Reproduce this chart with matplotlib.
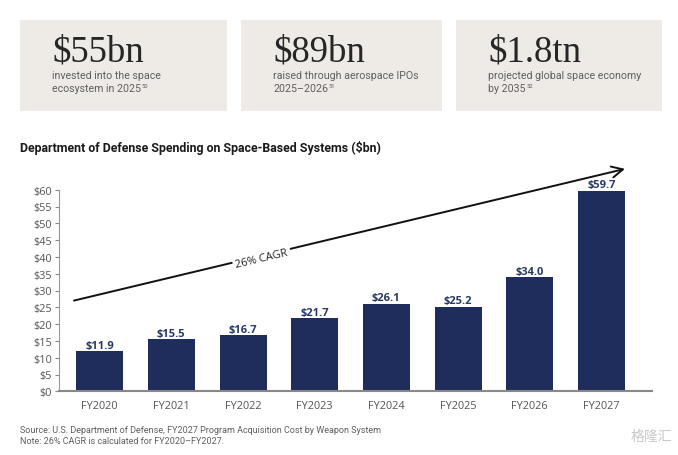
import matplotlib
matplotlib.use("Agg")
import matplotlib.pyplot as plt
from matplotlib.patches import Rectangle
import numpy as np

categories = ["FY2020", "FY2021", "FY2022", "FY2023", "FY2024", "FY2025", "FY2026", "FY2027"]
values = [11.9, 15.5, 16.7, 21.7, 26.1, 25.2, 34.0, 59.7]
yticks = [0, 5, 10, 15, 20, 25, 30, 35, 40, 45, 50, 55, 60]
card_big = ["$55bn", "$89bn", "$1.8tn"]
card_line1 = ["invested into the space", "raised through aerospace IPOs", "projected global space economy"]
card_line2 = ["ecosystem in 2025", "2025\u20132026", "by 2035"]
card_sup = ["50", "51", "52"]

W, H = 678, 456
fig = plt.figure(figsize=(W / 100, H / 100), dpi=100)
fig.patch.set_facecolor("white")

def fx(px):
    return px / W

def fy(py):
    return 1 - py / H

navy = "#1f2d5d"
gray_txt = "#5f5f5f"
card_col = "#eeeae6"
narrow = ["Roboto", "DejaVu Sans"]
serif = ["Liberation Serif", "DejaVu Serif"]
opens = ["Open Sans", "DejaVu Sans"]

# cards
cards_x = [(20, 227), (241, 442), (456, 662)]
for i, (x0, x1) in enumerate(cards_x):
    fig.patches.append(Rectangle((fx(x0), fy(112)), fx(x1 - x0), (112 - 21) / H,
                                 transform=fig.transFigure, facecolor=card_col,
                                 edgecolor="none", zorder=0))
    tx = x0 + 32
    fig.text(fx(tx), fy(61), card_big[i], family=serif, fontsize=26.5,
             color="#262626", ha="left", va="baseline")
    fig.text(fx(tx), fy(79.5), card_line1[i], family=narrow, fontsize=7.7,
             color=gray_txt, ha="left", va="baseline")
    t = fig.text(fx(tx), fy(92.5), card_line2[i], family=narrow, fontsize=7.7,
                 color=gray_txt, ha="left", va="baseline")
    fig.canvas.draw()
    bb = t.get_window_extent()
    fig.text(bb.x1 / W + 0.001, fy(88.5), card_sup[i], family=narrow, fontsize=4.2,
             color=gray_txt, ha="left", va="baseline")

# title
fig.text(fx(20), fy(152), "Department of Defense Spending on Space-Based Systems ($bn)",
         family=narrow, fontsize=8.9, fontweight="bold", color="#1a1a1a",
         ha="left", va="baseline")

# axes
y0px, y60px = 392.3, 190.7
ax = fig.add_axes([fx(59), fy(y0px), fx(652 - 59), (y0px - y60px) / H])
x = np.arange(len(categories))
ax.bar(x, values, width=0.656, color=navy, zorder=2)
for xi, v in zip(x, values):
    ax.text(xi, v + 1.0, f"${v:.1f}", ha="center", va="baseline", fontsize=8,
            fontweight="bold", color="#283a66", family=opens)
ax.set_xlim(-0.568, 7.707)
ax.set_ylim(0, 60)
ax.set_yticks(yticks)
ax.set_yticklabels([f"${t}" for t in yticks])
ax.set_xticks(x)
ax.set_xticklabels(categories)
for lab in ax.get_yticklabels() + ax.get_xticklabels():
    lab.set_family(opens)
    lab.set_color("#555555")
    lab.set_fontsize(7.8)
ax.tick_params(axis="y", length=3, width=0.8, color="#888888", pad=2)
ax.tick_params(axis="x", length=0, pad=6)
for s in ["top", "right"]:
    ax.spines[s].set_visible(False)
ax.spines["left"].set_color("#999999")
ax.spines["left"].set_linewidth(0.8)
ax.spines["bottom"].set_color("#888888")
ax.spines["bottom"].set_linewidth(1.5)
ax.set_facecolor("none")

# CAGR arrow
x_start, y_start = -0.359, 27.0
x_end, y_end = 7.33, 66.2
ax.annotate("", xy=(x_end, y_end), xytext=(x_start, y_start), xycoords="data",
            arrowprops=dict(arrowstyle="->,head_length=0.8,head_width=0.4",
                            color="#111111", lw=1.4, shrinkA=0, shrinkB=0),
            annotation_clip=False, zorder=3)
ang = np.degrees(np.arctan2(131.6, 551))
ax.text(2.26, 39.7, "26% CAGR", rotation=ang, rotation_mode="anchor",
        ha="center", va="center", fontsize=8, color="#222222",
        family=opens, zorder=4,
        bbox=dict(boxstyle="square,pad=0.25", facecolor="white", edgecolor="none"))

# footer
fig.text(fx(20), fy(433), "Source: U.S. Department of Defense, FY2027 Program Acquisition Cost by Weapon System",
         family=narrow, fontsize=6.5, color=gray_txt, ha="left", va="baseline")
fig.text(fx(20), fy(444.5), "Note: 26% CAGR is calculated for FY2020\u2013FY2027.",
         family=narrow, fontsize=6.5, color=gray_txt, ha="left", va="baseline")
fig.text(fx(672), fy(441), "格隆汇", family=["Noto Sans CJK SC", "DejaVu Sans"],
         fontsize=10, color="#c8c8c8", ha="right", va="baseline")

fig.savefig("out.png", dpi=100, facecolor="white")
